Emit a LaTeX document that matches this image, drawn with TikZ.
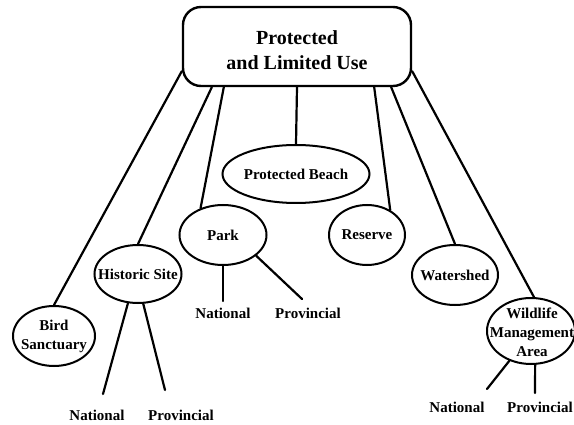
\documentclass[tikz,border=0pt]{standalone}
\usepackage{fontspec}
\setmainfont{Liberation Serif}
\usetikzlibrary{shapes.geometric}
\tikzset{
  link/.style={line width=2.2pt, line cap=round},
  oval/.style={ellipse, draw, line width=2pt, inner sep=0pt},
  txt/.style={font=\bfseries\fontsize{15}{19}\selectfont, align=center, inner sep=0pt},
  toptxt/.style={font=\bfseries\fontsize{20}{25}\selectfont, align=center, inner sep=0pt},
}
\begin{document}
\begin{tikzpicture}[x=1pt, y=-1pt]
\path[use as bounding box, fill=white] (0,0) rectangle (574,425);

% root box
\node[draw, line width=2.4pt, rounded corners=18pt, minimum width=228pt,
      minimum height=79pt, inner sep=0pt] (root) at (297,46.5) {};
\node[toptxt] (roottxt) at (297,50) {Protected\\and Limited Use};

% second level
\node[oval, minimum width=82pt, minimum height=60pt] (bird) at (54,336) {};
\node[txt] (birdtxt) at (bird) {Bird\\Sanctuary};

\node[oval, minimum width=87pt, minimum height=58pt] (hist) at (138,274) {};
\node[txt] (histtxt) at (hist) {Historic Site};

\node[oval, minimum width=87pt, minimum height=60pt] (park) at (223,235) {};
\node[txt] (parktxt) at (park) {Park};

\node[oval, minimum width=147pt, minimum height=58pt] (beach) at (296,174) {};
\node[txt] (beachtxt) at (beach) {Protected Beach};

\node[oval, minimum width=76pt, minimum height=60pt] (res) at (367,235) {};
\node[txt] (restxt) at (res) {Reserve};

\node[oval, minimum width=86pt, minimum height=60pt] (water) at (455,275) {};
\node[txt] (watertxt) at (water) {Watershed};

\node[oval, minimum width=88pt, minimum height=66pt] (wild) at (531,331) {};
\node[txt] (wildtxt) at (532,332) {Wildlife\\Management\\Area};

% leaf labels
\node[txt] (hnat) at (97,415) {National};
\node[txt] (hprov) at (181,415) {Provincial};
\node[txt] (pnat) at (223,313) {National};
\node[txt] (pprov) at (308,313) {Provincial};
\node[txt] (wnat) at (457,407) {National};
\node[txt] (wprov) at (540,407) {Provincial};

% free ends of the leaf links
\coordinate (hnatend) at (103,394);
\coordinate (hprovend) at (165,390);
\coordinate (pnatend) at (223,301);
\coordinate (pprovend) at (302,299);
\coordinate (wnatend) at (487,389);
\coordinate (wprovend) at (535,393);

% links from the root
\draw[link] ([yshift=16pt]root.south west) -- (bird.north);
\draw[link] ([xshift=30pt]root.south west) -- (hist.north);
\draw[link] ([xshift=42pt]root.south west) -- (park.130);
\draw[link] (root.south) -- (beach.north);
\draw[link] ([xshift=-38pt]root.south east) -- (res.47);
\draw[link] ([xshift=-21pt]root.south east) -- (water.north);
\draw[link] ([yshift=16pt]root.south east) -- (wild.85);

% links to the leaves
\draw[link] (hist.251) -- (hnatend);
\draw[link] (hist.280) -- (hprovend);
\draw[link] (park.south) -- (pnatend);
\draw[link] (park.328) -- (pprovend);
\draw[link] (wild.234) -- (wnatend);
\draw[link] (wild.277) -- (wprovend);
\end{tikzpicture}
\end{document}
